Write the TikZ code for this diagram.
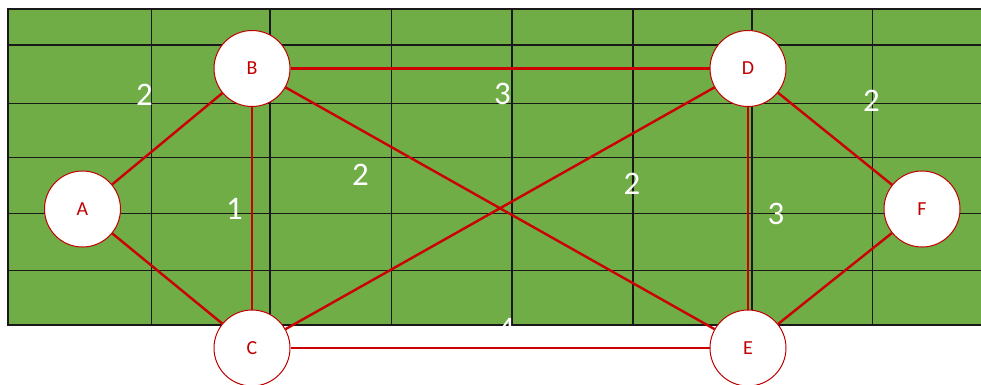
\documentclass[tikz,border=0pt]{standalone}
\usepackage{fontspec}
\setmainfont{Carlito}
\definecolor{gridgreen}{HTML}{70AD47}
\definecolor{edgered}{HTML}{CC0000}
\definecolor{nodered}{HTML}{C00000}
\pgfdeclarelayer{gridlayer}
\pgfdeclarelayer{edgelayer}
\pgfsetlayers{gridlayer,edgelayer,main}
\begin{document}
\begin{tikzpicture}[x=1bp,y=-1bp,
  vert/.style={circle,draw=nodered,line width=1bp,fill=white,minimum size=76bp,inner sep=0pt,text=nodered,font=\fontsize{20}{20}\selectfont},
  edge/.style={draw=edgered,line width=2.4bp},
  wlabel/.style={text=white,inner sep=0pt,font=\fontsize{33}{33}\selectfont},
  gridline/.style={draw=black!90,line width=1.2bp}]
\useasboundingbox (0,0) rectangle (981,384);
\begin{pgfonlayer}{gridlayer}
\fill[white] (0,0) rectangle (981,384);
\fill[gridgreen] (8,9) rectangle (981,325);
\foreach \x in {151.7,270,391.7,512,633,752,872.7}
  \draw[gridline] (\x,9) -- (\x,325);
\foreach \y in {45,103.3,157.3,213.3,270.7}
  \draw[gridline] (8,\y) -- (981,\y);
\draw[gridline] (981,9) -- (8,9) -- (8,325) -- (981,325);
\end{pgfonlayer}
% nodes
\node[vert] (A) at (82.5,209) {A};
\node[vert] (B) at (252,68.5) {B};
\node[vert] (C) at (252,348) {C};
\node[vert] (D) at (748,68.5) {D};
\node[vert] (E) at (748,348) {E};
\node[vert] (F) at (922,209) {F};
% edges
\begin{pgfonlayer}{edgelayer}
\draw[edge] (A) -- (B);
\draw[edge] (A) -- (C);
\draw[edge] (B) -- (C);
\draw[edge] (B) -- (D);
\draw[edge] (B) -- (E);
\draw[edge] (C) -- (D);
\draw[edge] (C) -- (E);
\draw[edge] (D) -- (E);
\draw[edge] (D) -- (F);
\draw[edge] (E) -- (F);
\end{pgfonlayer}
% weights
\node[wlabel] (wAB) at (144.5,94.5) {2};
\node[wlabel] (wBD) at (502.5,94) {3};
\node[wlabel] (wDF) at (871.5,101) {2};
\node[wlabel] (wBC) at (234.5,208.5) {1};
\node[wlabel] (wBE) at (360.5,174.5) {2};
\node[wlabel] (wCD) at (632,183.5) {2};
\node[wlabel] (wDE) at (776,214) {3};
\node[wlabel] (wCE) at (506.5,329) {4};
\end{tikzpicture}
\end{document}
